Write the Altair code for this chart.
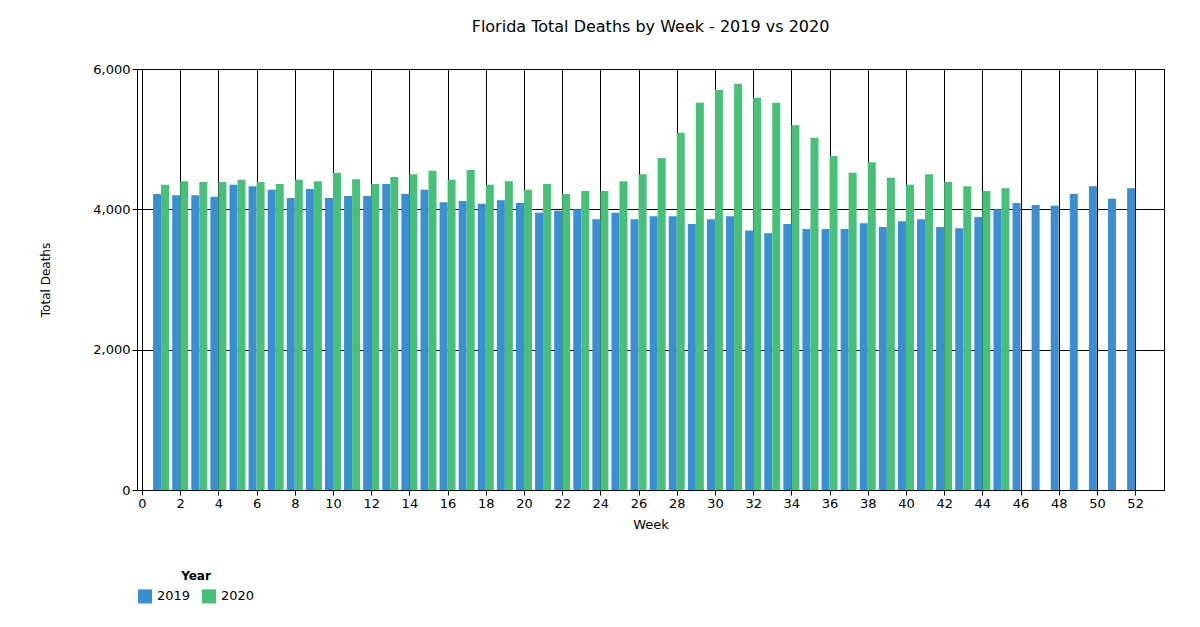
import altair as alt
import pandas as pd

weeks = list(range(1, 53))
deaths_2019 = [4220,4200,4200,4180,4350,4330,4280,4160,4290,4160,4190,4190,4360,4220,4280,4100,
               4120,4080,4130,4090,3950,3980,4000,3860,3950,3860,3900,3900,3790,3860,3900,3700,
               3660,3790,3720,3720,3720,3800,3750,3830,3860,3750,3730,3890,4000,4090,4060,4050,
               4220,4330,4150,4300]
deaths_2020 = [4350,4400,4390,4390,4420,4390,4360,4420,4400,4520,4430,4360,4460,4500,4550,4420,
               4560,4350,4400,4280,4360,4220,4260,4260,4400,4500,4730,5090,5520,5700,5790,5590,
               5520,5200,5020,4760,4520,4670,4450,4350,4500,4390,4330,4260,4300]

rows = [{"Week": w, "Deaths": d, "Year": "2019"} for w, d in zip(weeks, deaths_2019)]
rows += [{"Week": w, "Deaths": d, "Year": "2020"} for w, d in zip(weeks, deaths_2020)]
df = pd.DataFrame(rows)

chart = alt.Chart(df).transform_calculate(
    xpos="datum.Year == '2019' ? datum.Week - 0.21 : datum.Week + 0.21"
).mark_bar(size=8).encode(
    x=alt.X("xpos:Q", title="Week",
            scale=alt.Scale(domain=[0, 53.25], nice=False, zero=False),
            axis=alt.Axis(values=list(range(0, 53, 2)), grid=True, gridColor="black",
                          gridOpacity=1, tickColor="black", domainColor="black",
                          labelFontSize=13, titleFontSize=13, titleFontWeight="normal",
                          labelColor="black", titleColor="black", titlePadding=8)),
    y=alt.Y("Deaths:Q", title="Total Deaths",
            scale=alt.Scale(domain=[0, 6000], nice=False),
            axis=alt.Axis(values=[0, 2000, 4000, 6000], grid=True, gridColor="black",
                          gridOpacity=1, tickColor="black", domainColor="black",
                          labelFontSize=13, titleFontSize=12, titleFontWeight="normal",
                          labelColor="black", titleColor="black", titlePadding=40)),
    color=alt.Color("Year:N",
                    scale=alt.Scale(domain=["2019", "2020"], range=["#3a8fd3", "#48c07a"]),
                    legend=alt.Legend(orient="bottom", direction="horizontal",
                                      titleAnchor="middle", symbolType="square",
                                      symbolSize=200, labelFontSize=13, titleFontSize=12,
                                      offset=40, titleOrient="top")),
).properties(
    width=1027, height=421,
    title=alt.TitleParams("Florida Total Deaths by Week - 2019 vs 2020", fontSize=16,
                          fontWeight="normal", offset=28, color="black"),
    autosize=alt.AutoSizeParams(type="none"),
    padding={"left": 129, "top": 61, "right": 20, "bottom": 120},
).configure(font="DejaVu Sans").configure_view(stroke="black")

chart.save("out.html", embed_options={"renderer": "svg", "actions": False})
